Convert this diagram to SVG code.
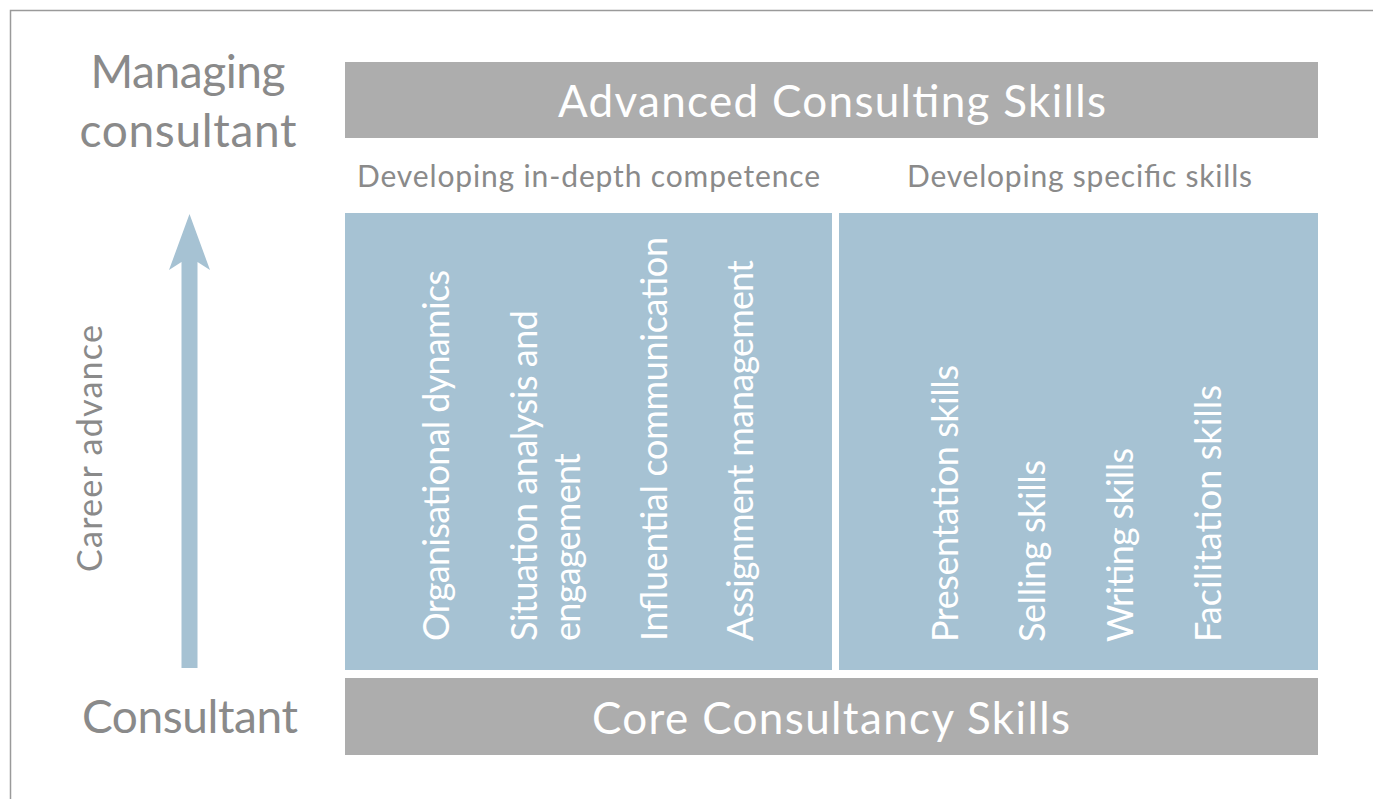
<svg xmlns="http://www.w3.org/2000/svg" width="1373" height="799" viewBox="0 0 1373 799">
  <style>
    .frame { fill: none; stroke: #9a9a9a; stroke-width: 1.5; }
    .bar { fill: #adadad; }
    .panel { fill: #a6c2d3; }
    .t { font-family: Lato, "Liberation Sans", sans-serif; }
    .level { fill: #8a8a8a; font-size: 46px; text-anchor: middle; }
    .bar-label { fill: #ffffff; font-size: 44px; text-anchor: middle; }
    .sub { fill: #8a8a8a; font-size: 30px; }
    .axis { fill: #8a8a8a; font-size: 34px; }
    .skill { fill: #ffffff; font-size: 36px; }
  </style>

  <rect width="1373" height="799" fill="#ffffff"/>
  <path class="frame" d="M10.5,799 V10.5 H1373"/>

  <!-- career levels -->
  <g id="level-managing">
    <text class="t level" x="188" y="88" textLength="195">Managing</text>
    <text class="t level" x="188" y="147" textLength="217">consultant</text>
  </g>
  <g id="level-consultant">
    <text class="t level" x="190" y="733" textLength="216">Consultant</text>
  </g>

  <!-- career axis -->
  <g id="career-axis">
    <polygon fill="#a6c2d3" points="189.5,214 210,270 197.5,262 197.5,668 181.5,668 181.5,262 169,270"/>
    <text class="t axis" transform="translate(102,572) rotate(-90)" textLength="247">Career advance</text>
  </g>

  <!-- top and bottom bars -->
  <g id="advanced-skills">
    <rect class="bar" x="345" y="62" width="973" height="76"/>
    <text class="t bar-label" x="832" y="117" textLength="548">Advanced Consulting Skills</text>
  </g>
  <g id="core-skills">
    <rect class="bar" x="345" y="678" width="973" height="77"/>
    <text class="t bar-label" x="831" y="734" textLength="478">Core Consultancy Skills</text>
  </g>

  <!-- in-depth competence -->
  <g id="in-depth-competence">
    <text class="t sub" x="357" y="187" textLength="463">Developing in-depth competence</text>
    <rect class="panel" x="345" y="213" width="487" height="457"/>
    <text class="t skill" transform="translate(449,641) rotate(-90)" textLength="371">Organisational dynamics</text>
    <text class="t skill" transform="translate(537,641) rotate(-90)" textLength="331">Situation analysis and</text>
    <text class="t skill" transform="translate(580,641) rotate(-90)" textLength="188">engagement</text>
    <text class="t skill" transform="translate(667,641) rotate(-90)" textLength="404">Influential communication</text>
    <text class="t skill" transform="translate(753,641) rotate(-90)" textLength="381">Assignment management</text>
  </g>

  <!-- specific skills -->
  <g id="specific-skills">
    <text class="t sub" x="907" y="187" textLength="345">Developing specific skills</text>
    <rect class="panel" x="839" y="213" width="479" height="457"/>
    <text class="t skill" transform="translate(958,642) rotate(-90)" textLength="277">Presentation skills</text>
    <text class="t skill" transform="translate(1045,642) rotate(-90)" textLength="182">Selling skills</text>
    <text class="t skill" transform="translate(1133,642) rotate(-90)" textLength="194">Writing skills</text>
    <text class="t skill" transform="translate(1221,642) rotate(-90)" textLength="257">Facilitation skills</text>
  </g>

  <!-- no connectors between nodes -->
  <g id="connectors"/>
</svg>
